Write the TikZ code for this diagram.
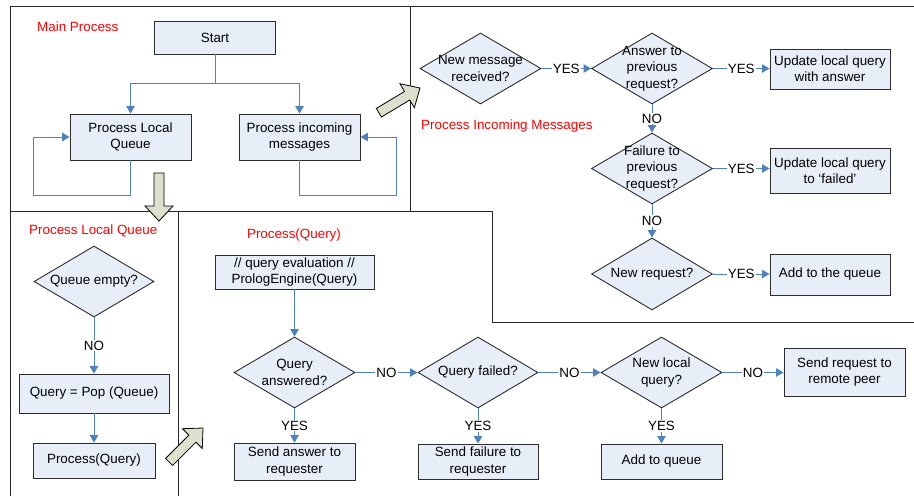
\documentclass[tikz,border=0pt]{standalone}
\usepackage{fontspec}
\setmainfont{Liberation Sans}
\usetikzlibrary{shapes.geometric,arrows.meta,calc}
\definecolor{boxfill}{RGB}{232,238,248}
\definecolor{conncol}{RGB}{79,129,189}
\definecolor{fatfill}{RGB}{221,224,204}
\definecolor{edgecol}{RGB}{45,45,45}
\newcommand{\fatarrow}[2]{\draw[fatarr, shift={#1}, rotate=#2] (0,0) -- (-15,14) -- (-15,5) -- (-48,5) -- (-48,-5) -- (-15,-5) -- (-15,-14) -- cycle;}
\begin{document}
\begin{tikzpicture}[x=1pt,y=-1pt,
  every node/.style={font=\fontsize{13.4}{16.3}\selectfont, text=black},
  box/.style={draw=edgecol, line width=0.9pt, fill=boxfill, align=center, inner sep=1pt},
  dia/.style={draw=edgecol, line width=0.9pt, fill=boxfill, diamond, inner sep=0pt,
              minimum width=121pt, minimum height=71pt},
  dtext/.style={align=center, inner sep=0pt},
  cn/.style={draw=conncol, line width=0.9pt, -{Triangle[length=7.5pt,width=8.5pt]}},
  cnl/.style={draw=conncol, line width=0.9pt},
  yn/.style={fill=white, inner sep=1pt},
  panel/.style={draw=black!85, line width=0.9pt},
  title/.style={text=red, inner sep=0pt},
  fatarr/.style={draw=black, line width=0.8pt, fill=fatfill}
]
\useasboundingbox (0,0) rectangle (914,496);

% panel frames
\draw[panel] (10,496) -- (10,6) -- (914,6);
\draw[panel] (410,6) -- (410,211);
\draw[panel] (10,211) -- (492,211) -- (492,322) -- (914,322);
\draw[panel] (178,211) -- (178,496);

% titles
\node[title, anchor=west] (tmain) at (37,27) {Main Process};
\node[title, anchor=west] (tpim) at (421,126) {Process Incoming Messages};
\node[title, anchor=west] (tplq) at (29,231) {Process Local Queue};
\node[title] (tpq) at (294,235) {Process(Query)};

% main process
\node[box, minimum width=121pt, minimum height=33pt] (start) at (215,37.5) {Start};
\node[box, minimum width=121pt, minimum height=46pt] (plq) at (130.5,137) {Process Local\\Queue};
\node[box, minimum width=121pt, minimum height=46pt] (pim) at (299.5,137) {Process incoming\\messages};
\coordinate (split) at (215,83);
\coordinate (loopl) at (33,195);
\coordinate (loopr) at (396,195);
\draw[cnl] (start.south) -- (split);
\draw[cn] (split) -| (plq.north);
\draw[cn] (split) -| (pim.north);
\draw[cn] (plq.south) |- (loopl) |- (plq.west);
\draw[cn] (pim.south) |- (loopr) |- (pim.east);

% process incoming messages
\node[dia, label={[dtext]center:New message\\received?}] (d1) at (480.5,68.5) {};
\node[dia, label={[dtext]center:Answer to\\previous\\request?}] (d2) at (652,68.5) {};
\node[box, minimum width=120pt, minimum height=40pt] (b1) at (830,69) {Update local query\\with answer};
\node[dia, label={[dtext]center:Failure to\\previous\\request?}] (d3) at (652,168.5) {};
\node[box, minimum width=120pt, minimum height=45pt] (b2) at (830,170.5) {Update local query\\to ‘failed’};
\node[dia, minimum height=72pt, label={[dtext]center:New request?}] (d4) at (652,274) {};
\node[box, minimum width=120pt, minimum height=41pt] (b3) at (830,274.5) {Add to the queue};

\draw[cn] (d1.east) -- node[yn] {YES} (d2.west);
\draw[cn] (d2.east) -- node[yn] {YES} (d2.east -| b1.west);
\draw[cn] (d2.south) -- node[yn] {NO} (d3.north);
\draw[cn] (d3.east) -- node[yn] {YES} (d3.east -| b2.west);
\draw[cn] (d3.south) -- node[yn] {NO} (d4.north);
\draw[cn] (d4.east) -- node[yn] {YES} (d4.east -| b3.west);

% process local queue
\node[dia, minimum width=120pt, label={[dtext]center:Queue empty?}] (q1) at (94,281.5) {};
\node[box, minimum width=150pt, minimum height=39pt] (q2) at (94,393.5) {Query = Pop (Queue)};
\node[box, minimum width=122pt, minimum height=35pt] (q3) at (94,460.5) {Process(Query)};
\draw[cn] (q1.south) -- node[yn] {NO} (q2.north);
\draw[cn] (q2.south) -- (q3.north);

% process(query)
\node[box, minimum width=159pt, minimum height=34pt] (p0) at (294.5,272) {// query evaluation //\\PrologEngine(Query)};
\node[dia, label={[dtext]center:Query\\answered?}] (p1) at (294.5,372.5) {};
\node[box, minimum width=121pt, minimum height=37pt] (p1b) at (294.5,461.5) {Send answer to\\requester};
\node[dia, minimum width=120pt, label={[dtext]center:Query failed?}] (p2) at (478,372.5) {};
\node[box, minimum width=120pt, minimum height=35pt] (p2b) at (478,461.5) {Send failure to\\requester};
\node[dia, label={[dtext]center:New local\\query?}] (p3) at (661.5,372.5) {};
\node[box, minimum width=121pt, minimum height=35pt] (p3b) at (661.5,461.5) {Add to queue};
\node[box, minimum width=121pt, minimum height=48pt] (p4) at (844.5,372) {Send request to\\remote peer};

\draw[cn] (p0.south) -- (p1.north);
\draw[cn] (p1.south) -- node[yn] {YES} (p1b.north);
\draw[cn] (p1.east) -- node[yn] {NO} (p2.west);
\draw[cn] (p2.south) -- node[yn] {YES} (p2b.north);
\draw[cn] (p2.east) -- node[yn] {NO} (p3.west);
\draw[cn] (p3.south) -- node[yn] {YES} (p3b.north);
\draw[cn] (p3.east) -- node[yn] {NO} (p3.east -| p4.west);

% fat arrows
\fatarrow{(420,88)}{31}
\fatarrow{(159,221)}{-90}
\fatarrow{(203,428)}{45}
\end{tikzpicture}
\end{document}
